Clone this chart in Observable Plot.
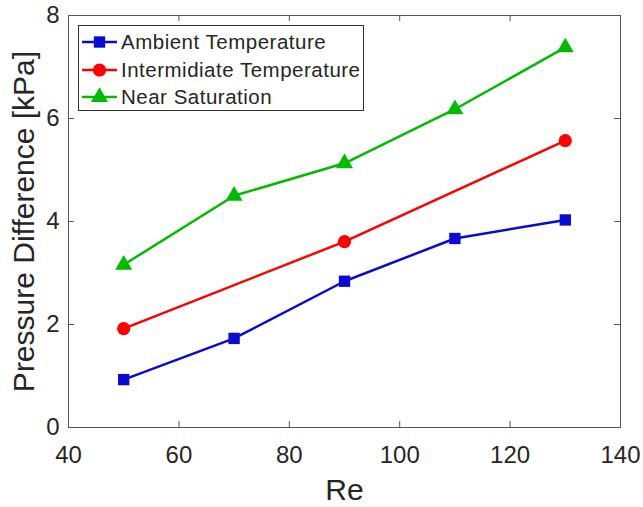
<!DOCTYPE html>
<html>
<head>
<meta charset="utf-8">
<script src="https://cdn.jsdelivr.net/npm/d3@7"></script>
<script src="https://cdn.jsdelivr.net/npm/@observablehq/plot@0.6"></script>
<style>
  body { margin: 0; background: #fff; }
  svg { font-family: Arial, "Liberation Sans", Helvetica, sans-serif; }
</style>
</head>
<body>
<div id="chart"></div>
<script>
// Reynolds numbers at which the pressure drop was measured
const reAmbient = [50, 70, 90, 110, 130];
const reIntermediate = [50, 90, 130];
const reNearSat = [50, 70, 90, 110, 130];

// Pressure difference [kPa] for each condition
const ambient = [0.93, 1.73, 2.84, 3.67, 4.03];
const intermediate = [1.92, 3.61, 5.57];
const nearSat = [3.16, 4.50, 5.13, 6.18, 7.38];

const seriesNames = ["Ambient Temperature", "Intermidiate Temperature", "Near Saturation"];
const seriesColors = ["#0a0ad2", "#ff0000", "#00bb00"];
const seriesSymbols = ["square", "circle", "triangle"];
const seriesR = [6.4, 6.6, 6.3];

const xTicks = [40, 60, 80, 100, 120, 140];
const yTicks = [0, 2, 4, 6, 8];
const xLabel = "Re";
const yLabel = "Pressure Difference [kPa]";

// Long-format table built from the arrays above
const rows = [
  ...reAmbient.map((re, i) => ({series: seriesNames[0], re, dp: ambient[i]})),
  ...reIntermediate.map((re, i) => ({series: seriesNames[1], re, dp: intermediate[i]})),
  ...reNearSat.map((re, i) => ({series: seriesNames[2], re, dp: nearSat[i]}))
];

const W = 643, H = 507;
const mL = 68, mR = 23, mT = 15, mB = 80;
const plotW = W - mL - mR, plotH = H - mT - mB;
const tickLen = 6;
const axisColor = "#555";
const textColor = "#262626";
const inner = xTicks.slice(1, -1);
const innerY = yTicks.slice(1, -1);

const chart = Plot.plot({
  width: W,
  height: H,
  marginLeft: mL,
  marginRight: mR,
  marginTop: mT,
  marginBottom: mB,
  style: {fontFamily: "Arial, 'Liberation Sans', sans-serif", fontSize: "24px", color: textColor, background: "#fff"},
  x: {domain: [40, 140], ticks: xTicks, tickSize: 0, tickPadding: 18, label: null},
  y: {domain: [0, 8], ticks: yTicks, tickSize: 0, tickPadding: 9, label: null},
  color: {domain: seriesNames, range: seriesColors},
  marks: [
    // inward ticks on all four sides of the box
    Plot.tickX(inner, {x: d => d, insetTop: plotH - tickLen, stroke: axisColor}),
    Plot.tickX(inner, {x: d => d, insetBottom: plotH - tickLen, stroke: axisColor}),
    Plot.tickY(innerY, {y: d => d, insetRight: plotW - tickLen, stroke: axisColor}),
    Plot.tickY(innerY, {y: d => d, insetLeft: plotW - tickLen, stroke: axisColor}),
    Plot.frame({stroke: axisColor, strokeWidth: 1}),
    Plot.line(rows, {x: "re", y: "dp", z: "series", stroke: "series", strokeWidth: 2.5}),
    ...seriesNames.map((name, i) =>
      Plot.dot(rows.filter(d => d.series === name), {
        x: "re", y: "dp", symbol: () => seriesSymbols[i], r: seriesR[i],
        fill: seriesColors[i], stroke: "none"
      })
    ),
    Plot.text([xLabel], {text: d => d, frameAnchor: "bottom", dy: 72, lineAnchor: "bottom",
      textAnchor: "middle", fontSize: 30, fill: textColor}),
    Plot.text([yLabel], {text: d => d, frameAnchor: "left", rotate: -90, dx: -35, lineAnchor: "bottom",
      textAnchor: "middle", fontSize: 30, fill: textColor})
  ]
});

// Legend box in the upper-left corner of the axes
const svg = d3.select(chart);
const legend = svg.append("g").attr("class", "legend");
const box = {x: 78, y: 25, w: 285, h: 85};
legend.append("rect")
  .attr("x", box.x + 0.5).attr("y", box.y + 0.5)
  .attr("width", box.w).attr("height", box.h)
  .attr("fill", "#fff").attr("stroke", "#333").attr("stroke-width", 1);
const rowY = [42, 70, 97];
const symbolMap = {square: d3.symbolSquare, circle: d3.symbolCircle, triangle: d3.symbolTriangle};
seriesNames.forEach((name, i) => {
  const g = legend.append("g").attr("transform", `translate(0,${rowY[i]})`);
  g.append("line").attr("x1", 82).attr("x2", 117).attr("y1", 0).attr("y2", 0)
    .attr("stroke", seriesColors[i]).attr("stroke-width", 2.5);
  g.append("path")
    .attr("transform", "translate(99.5,0)")
    .attr("d", d3.symbol(symbolMap[seriesSymbols[i]], Math.PI * seriesR[i] * seriesR[i])())
    .attr("fill", seriesColors[i]);
  g.append("text").attr("x", 121).attr("y", 0).attr("dy", "0.35em")
    .attr("text-anchor", "start")
    .attr("font-size", 20.5).attr("letter-spacing", "0.5px")
    .attr("fill", textColor).text(name);
});

document.getElementById("chart").appendChild(chart);
</script>
</body>
</html>
